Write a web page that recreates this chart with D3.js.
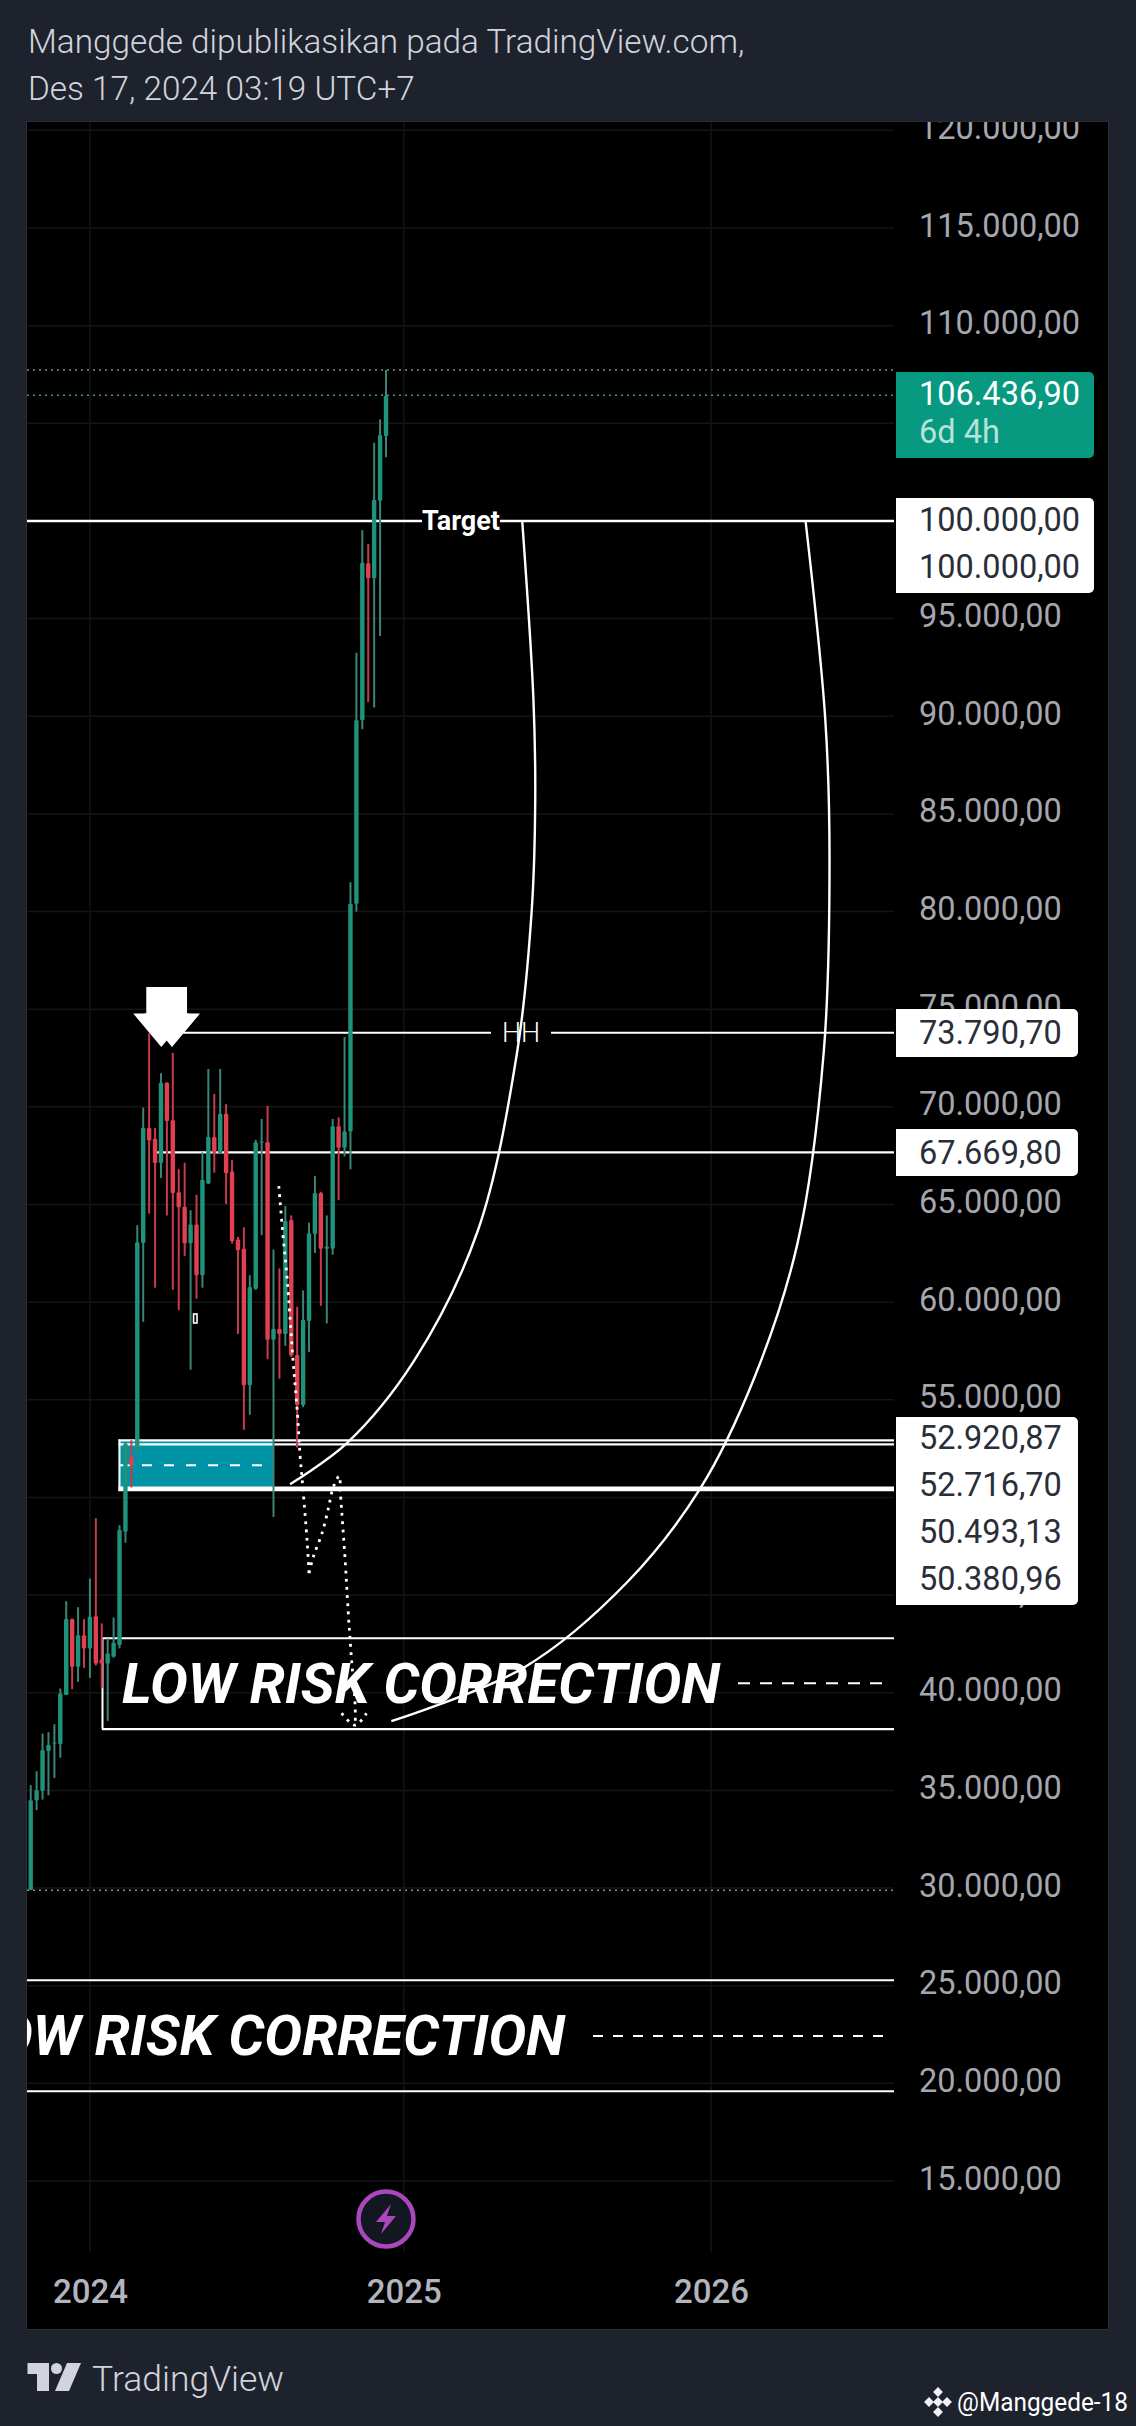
<!DOCTYPE html>
<html><head><meta charset="utf-8"><script src="https://cdn.jsdelivr.net/npm/d3@7"></script>
<style>html,body{margin:0;padding:0;background:#1e222d}svg{display:block}text{font-family:Roboto,sans-serif}</style></head>
<body><div id="c"></div>
<script>
const opens=[29900,34500,34980,37020,37400,37370,39880,43770,41330,42950,42270,43920,41700,41500,41840,42440,48240,52080,52460,63030,68920,68370,67130,71240,69320,65630,64890,63010,63980,61380,66080,68460,67640,69650,66690,63210,62740,55750,60690,68190,68190,58070,58620,58370,64200,57300,54740,59040,63490,65590,62740,62740,69010,67910,68740,80400,89800,97830,97060,101040,104350];
const highs=[35270,35980,37910,37980,38390,40220,44690,43800,44380,43770,45850,48940,43550,42780,43850,48580,52850,52930,63940,69960,73770,68920,71720,71260,72760,66810,67140,64710,65500,67670,71940,70660,71940,70140,67270,63340,63830,61380,68310,69380,70050,62700,61730,64930,64440,59770,60600,64070,66450,65650,64440,69380,69470,73580,81500,93250,99530,98820,104010,105200,107730];
const lows=[29890,33990,34530,34750,35640,36680,39880,40180,40560,41280,40760,41400,40250,38560,41800,42270,47680,50510,52300,58990,64530,60740,66360,64440,60630,59590,62370,56540,60180,60740,66050,66630,67600,65020,63000,58370,53460,54230,60630,63430,57080,49000,56080,57760,57200,52550,54620,57450,62520,59810,58910,62430,65220,67460,66810,80000,89340,90730,90450,94110,103260];
const closes=[34500,35010,37060,37320,37450,39960,43770,41330,42950,42270,43890,41500,41500,42010,42560,48330,52760,51650,63070,68920,68280,67130,71240,69280,65590,64860,63010,63980,61380,66270,68460,67640,69650,66600,63120,62660,55750,60780,68190,68220,58070,58620,58370,64160,57250,54740,59080,63520,65590,62740,62850,69010,67910,68740,80400,89800,97860,97060,101070,104400,106400];
const gridTicks=[120000,115000,110000,105000,100000,95000,90000,85000,80000,75000,70000,65000,60000,55000,50000,45000,40000,35000,30000,25000,20000,15000];
const priceTicks=[120000,115000,110000,95000,90000,85000,80000,75000,70000,65000,60000,55000,45000,40000,35000,30000,25000,20000,15000];
const yearTicks=[10,63,114.9];
const yearLabels=["2024","2025","2026"];
const curveAIdx=[83,84.9,85.2,84.6,82.1,75.5,64.7,53.4,43.8];
const curveAVal=[100000,90829,85708,80023,72721,63657,56979,52780,50680];
const curveBIdx=[130.85,134.2,134.9,133.9,129.5,122.2,113.1,100.8,83.4,60.9];
const curveBVal=[100000,89753,82635,72721,63022,56129,50475,45682,41309,38543];
const dotAIdx=[41.9,42.6,43.3,44.3,45,45.5,46,46.7,47];
const dotAVal=[65941,63431,61230,57030,54470,52114,50373,47659,46123];
const dotBIdx=[47,47.7,49.2,50.2,51.1,52.1,52.3,53.1,53.6,54.1,54.8,54.8];
const dotBVal=[46123,46940,48171,49349,50527,51090,50219,46788,44227,42026,39260,38338];
const dotHeadIdx=[52.5,54.8,56.7];
const dotHeadVal=[38953,38338,38953];
const zoneTop=52920.87,zoneUpper=52716.70,zoneLower=50493.13,zoneBottom=50380.96;
const levelTarget=100000,levelHH=73790.70,levelLow=67669.80,lastPrice=106436.90,highPrice=107730,lowPrice=29890;
const riskTop=42794,riskBottom=38133,riskMid=40490,wideTop=25280,wideBottom=19596,wideMid=22430;
const stackA=[100000,100000];
const stackB=[52920.87,52716.70,50493.13,50380.96];

const W=1136,H=2426,pane={l:27,r:1108,t:122,b:2329},plotR=894,axisL=896;
const x=d3.scaleLinear([0,60],[30.7,386]);
const y=d3.scaleLinear([15000,115000],[2181,228]);
const fmt=d3.formatLocale({decimal:",",thousands:".",grouping:[3],currency:["",""]}).format(",.2f");
const svg=d3.select("#c").append("svg").attr("width",W).attr("height",H);
svg.append("rect").attr("width",W).attr("height",H).attr("fill","#1e222d");
svg.append("rect").attr("x",pane.l-.5).attr("y",pane.t-.5).attr("width",pane.r-pane.l+1).attr("height",pane.b-pane.t+1).attr("fill","#000").attr("stroke","#2a2e39");
const defs=svg.append("defs");
defs.append("clipPath").attr("id","plot").append("rect").attr("x",pane.l).attr("y",pane.t).attr("width",plotR-pane.l).attr("height",pane.b-pane.t);
defs.append("clipPath").attr("id","pane").append("rect").attr("x",pane.l).attr("y",pane.t).attr("width",pane.r-pane.l).attr("height",pane.b-pane.t);

// header
const hd=svg.append("g").attr("fill","#d1d4dc").style("font-size","33.3px").style("font-weight",300);
hd.append("text").attr("x",28).attr("y",53).text("Manggede dipublikasikan pada TradingView.com,");
hd.append("text").attr("x",28).attr("y",100).text("Des 17, 2024 03:19 UTC+7");

const plot=svg.append("g").attr("clip-path","url(#plot)");
// grid
plot.append("g").selectAll("line").data(gridTicks).join("line").attr("x1",pane.l).attr("x2",plotR).attr("y1",d=>y(d)).attr("y2",d=>y(d)).attr("stroke","#141414").attr("stroke-width",1.5);
plot.append("g").selectAll("line").data(yearTicks).join("line").attr("x1",d=>x(d)).attr("x2",d=>x(d)).attr("y1",pane.t).attr("y2",2252).attr("stroke","#141414").attr("stroke-width",1.5);

const hline=(v,x1,w,col,dash)=>plot.append("line").attr("x1",x1).attr("x2",plotR).attr("y1",y(v)).attr("y2",y(v)).attr("stroke",col||"#fff").attr("stroke-width",w).attr("stroke-dasharray",dash||null);
// zone
const zL=118.5,zR=273.5;
plot.append("rect").attr("x",zL).attr("y",y(zoneTop)).attr("width",zR-zL).attr("height",y(zoneLower)-y(zoneTop)).attr("fill","#0093a6");
plot.append("rect").attr("x",zL).attr("y",y(zoneTop)-1).attr("width",2).attr("height",y(zoneBottom)-y(zoneTop)+2).attr("fill","#fff");
hline(zoneTop,zL,2.2);hline(zoneUpper,zL,2.2);hline(zoneLower,zL,2.4);hline(zoneBottom,zL,2.4);
const zm=(zoneTop+zoneBottom)/2;
plot.append("line").attr("x1",120).attr("x2",264).attr("y1",y(zm)).attr("y2",y(zm)).attr("stroke","#fff").attr("stroke-width",2).attr("stroke-dasharray","10 12");
// levels
hline(highPrice,pane.l,1.6,"#8a8d96","2 4");
hline(lastPrice,pane.l,1.6,"#4f8f80","2 4");
hline(lowPrice,pane.l,1.6,"#8a8d96","2 4");
hline(levelTarget,pane.l,2.4);
hline(levelHH,183,2);
hline(levelLow,157,2.2);
// risk rectangles
hline(riskTop,102,2);hline(riskBottom,102,2.2);
plot.append("line").attr("x1",102.5).attr("x2",102.5).attr("y1",y(riskTop)).attr("y2",y(riskBottom)).attr("stroke","#fff").attr("stroke-width",2);
hline(wideTop,pane.l,2);hline(wideBottom,pane.l,2);
plot.append("line").attr("x1",738).attr("x2",884).attr("y1",y(riskMid)).attr("y2",y(riskMid)).attr("stroke","#fff").attr("stroke-width",2).attr("stroke-dasharray","12 10");
plot.append("line").attr("x1",593).attr("x2",892).attr("y1",y(wideMid)).attr("y2",y(wideMid)).attr("stroke","#fff").attr("stroke-width",2).attr("stroke-dasharray","10 10");
const bigText=(xx,yy)=>plot.append("text").attr("x",xx).attr("y",yy).attr("fill","#fff").style("font-size","55px").style("font-weight",700).style("font-style","italic").attr("textLength",598).attr("lengthAdjust","spacingAndGlyphs").text("LOW RISK CORRECTION");
bigText(122,1703);bigText(-33,2055);

// candles
const idx=d3.range(opens.length);
const up=i=>closes[i]>=opens[i];
plot.append("g").selectAll("line").data(idx).join("line").attr("x1",i=>x(i)).attr("x2",i=>x(i)).attr("y1",i=>y(highs[i])).attr("y2",i=>y(lows[i])).attr("stroke",i=>up(i)?"#3b8576":"#c63c4b").attr("stroke-width",2);
plot.append("g").selectAll("rect").data(idx).join("rect").attr("x",i=>x(i)-2.2).attr("width",4.4).attr("y",i=>y(Math.max(opens[i],closes[i]))).attr("height",i=>Math.max(1,Math.abs(y(opens[i])-y(closes[i])))).attr("rx",1).attr("fill",i=>up(i)?"#1f927c":"#e0404f");

// small marker, arrows
plot.append("rect").attr("x",x(27)+3).attr("y",1314).attr("width",3.4).attr("height",9).attr("fill","none").attr("stroke","#fff").attr("stroke-width",1.6);
const arrow=c=>`M${c-15},987H${c+15}V1013.6H${c+28}L${c},1047L${c-28},1013.6H${c-15}Z`;
plot.selectAll("path.arrow").data([x(22)+.3,x(24)-.8]).join("path").attr("class","arrow").attr("d",arrow).attr("fill","#fff");

// labels on lines
const tag=(cx,v,w,txt,size,weight)=>{
 plot.append("rect").attr("x",cx-w/2).attr("y",y(v)-8).attr("width",w).attr("height",16).attr("fill","#000");
 return ()=>plot.append("text").attr("x",cx).attr("y",y(v)).attr("dy",".35em").attr("text-anchor","middle").attr("fill","#fff").style("font-size",size+"px").style("font-weight",weight).text(txt);
};
const drawTarget=tag(461,levelTarget,78,"Target",27,700);
const drawHH=tag(521,levelHH,60,"HH",27,300);

// curves
const zip=(a,b)=>a.map((v,i)=>[v,b[i]]);
const smooth=d3.line().x(d=>x(d[0])).y(d=>y(d[1])).curve(d3.curveCatmullRom.alpha(.5));
plot.append("path").attr("d",smooth(zip(curveAIdx,curveAVal))).attr("fill","none").attr("stroke","#fff").attr("stroke-width",2.4);
plot.append("path").attr("d",smooth(zip(curveBIdx,curveBVal))).attr("fill","none").attr("stroke","#fff").attr("stroke-width",2.4);
[[dotAIdx,dotAVal],[dotBIdx,dotBVal],[dotHeadIdx,dotHeadVal]].forEach(([a,b])=>plot.append("path").attr("d",smooth(zip(a,b))).attr("fill","none").attr("stroke","#fff").attr("stroke-width",2.8).attr("stroke-dasharray","2.8 5.4"));
drawTarget();drawHH();

// price axis
const axY=svg.append("g").attr("clip-path","url(#pane)").append("g").attr("transform",`translate(${axisL},0)`).call(d3.axisRight(y).tickValues(priceTicks).tickSize(0).tickPadding(0).tickFormat(fmt));
axY.select(".domain").remove();
axY.selectAll("text").attr("x",23).attr("dy",0).attr("y",8).attr("text-anchor","start").attr("fill","#a5a7ae").style("font-size","32.5px").style("font-family","Roboto,sans-serif");

// price boxes
const box=(x1,x2,top,bot,fill)=>{svg.append("rect").attr("x",x1).attr("y",top).attr("width",x2-x1).attr("height",bot-top).attr("rx",5).attr("fill",fill);svg.append("rect").attr("x",x1).attr("y",top).attr("width",12).attr("height",bot-top).attr("fill",fill);};
const lab=(yy,t,col)=>svg.append("text").attr("x",919).attr("y",yy).attr("dy",".36em").attr("fill",col).style("font-size","32.5px").text(t);
box(axisL,1094,372,458,"#089981");
lab(393,fmt(lastPrice),"#fff");
lab(431,"6d 4h","#b5e3d9");
box(axisL,1094,498,593,"#fff");
stackA.forEach((v,i)=>lab(519+i*47,fmt(v),"#2a2e39"));
box(axisL,1078,1009,1057,"#fff");lab(1032,fmt(levelHH),"#2a2e39");
box(axisL,1078,1129,1176,"#fff");lab(1152,fmt(levelLow),"#2a2e39");
box(axisL,1078,1417,1605,"#fff");
stackB.forEach((v,i)=>lab(1437+i*47,fmt(v),"#2a2e39"));

// time axis
const axX=svg.append("g").attr("transform","translate(0,2280)").call(d3.axisBottom(x).tickValues(yearTicks).tickSize(0).tickPadding(0).tickFormat((d,i)=>yearLabels[i]));
axX.select(".domain").remove();
axX.selectAll("text").attr("fill","#b2b5be").attr("y",23).attr("dy",0).style("font-size","33px").style("font-weight",500).style("font-family","Roboto,sans-serif");

// event icon
const ev=svg.append("g").attr("transform",`translate(${x(60)},2219)`);
ev.append("circle").attr("r",27.5).attr("fill","#131722").attr("stroke","#ab47bc").attr("stroke-width",4.5);
ev.append("path").attr("d","M5,-15L-10,3H-1L-5,15L10,-3H1Z").attr("fill","#ab47bc");

// footer
const logo=svg.append("g").attr("fill","#d1d4dc");
logo.append("path").attr("d","M27.5,2363H49V2391H37V2374H27.5Z");
logo.append("circle").attr("cx",56.5).attr("cy",2368.5).attr("r",5.5);
logo.append("path").attr("d","M67,2363H81L69,2391H55Z");
svg.append("text").attr("x",92).attr("y",2391).attr("fill","#d1d4dc").style("font-size","35.5px").style("font-weight",300).text("TradingView");
const bn=svg.append("g").attr("fill","#eef0f3").attr("transform","translate(938,2402)");
[[0,-10],[0,10],[-9,0],[9,0],[0,0]].forEach(([a,b])=>bn.append("rect").attr("x",a-3.5).attr("y",b-3.5).attr("width",7).attr("height",7).attr("transform",`rotate(45 ${a} ${b})`));
svg.append("text").attr("x",957).attr("y",2411).attr("fill","#fff").style("font-size","26px").attr("textLength",171).attr("lengthAdjust","spacingAndGlyphs").text("@Manggede-18");
</script></body></html>
